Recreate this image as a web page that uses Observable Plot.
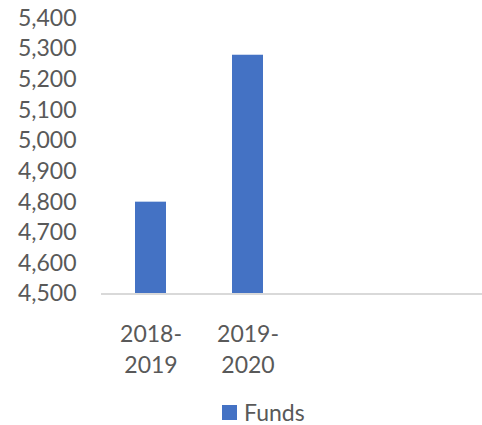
<!DOCTYPE html>
<html>
<head>
<meta charset="utf-8">
<script src="https://cdn.jsdelivr.net/npm/d3@7"></script>
<script src="https://cdn.jsdelivr.net/npm/@observablehq/plot@0.6"></script>
<style>
  body { margin: 0; background: #fff; font-family: Lato, "Open Sans", sans-serif; }
  #legend { display: flex; align-items: center; height: 30px; padding-left: 222px; font-size: 23px; color: #595959; }
  #legend .sw { width: 15px; height: 15px; background: #4472C4; margin-right: 7px; }
</style>
</head>
<body>
<div id="chart"></div>
<div id="legend"><span class="sw"></span><span>Funds</span></div>
<script>
const categories = ["2018-\n2019", "2019-\n2020"];
const funds = [4800, 5280];
const yTicks = [4500, 4600, 4700, 4800, 4900, 5000, 5100, 5200, 5300, 5400];

const data = categories.map((c, i) => ({category: c, value: funds[i]}));

const plot = Plot.plot({
  width: 482,
  height: 397,
  marginTop: 18,
  marginBottom: 103.5,
  marginLeft: 101,
  marginRight: 0,
  style: {fontFamily: "Lato, 'Open Sans', sans-serif", fontSize: "23px", color: "#595959", background: "#fff"},
  x: {domain: categories, range: [101, 296], paddingInner: 0.682, paddingOuter: 0.341},
  y: {domain: [4500, 5400]},
  marks: [
    Plot.barY(data, {x: "category", y1: 4500, y2: "value", fill: "#4472C4"}),
    Plot.ruleY([4500], {stroke: "#D9D9D9", strokeWidth: 2}),
    Plot.axisY({ticks: yTicks, tickSize: 0, tickPadding: 25, label: null, tickFormat: d3.format(","), fill: "#595959", fontSize: 23}),
    Plot.axisX({tickSize: 0, tickPadding: 26, label: null, lineHeight: 1.35, fill: "#595959", fontSize: 23})
  ]
});
document.getElementById("chart").appendChild(plot);
</script>
</body>
</html>
